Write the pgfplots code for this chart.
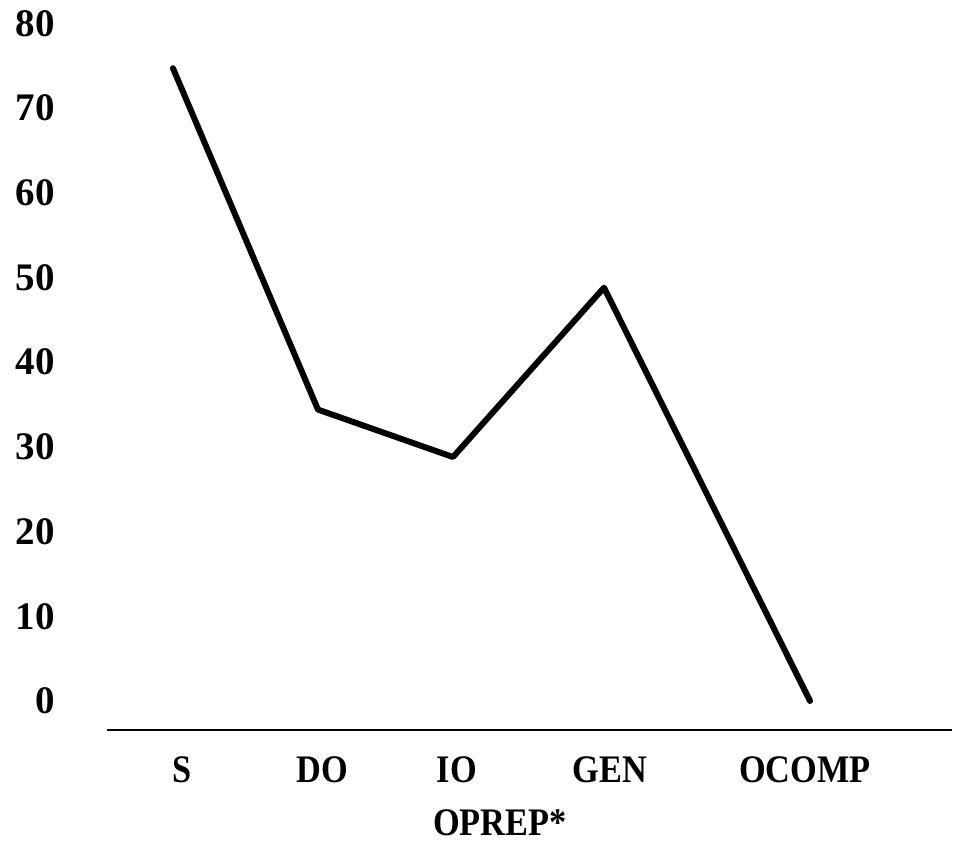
\documentclass[border=0pt]{standalone}
\usepackage{fontspec}
\setmainfont{Liberation Serif}
\newfontfamily\labfont[FakeStretch=0.88]{Liberation Serif}
\usepackage{pgfplots}
\pgfplotsset{compat=1.18}
\begin{document}
\begin{tikzpicture}
\begin{axis}[
  x=0.5pt, y=4.235pt,
  xmin=107, xmax=952, ymin=-3.4, ymax=80,
  axis x line*=bottom, axis y line*=left,
  axis line style={-},
  y axis line style={draw=none},
  x axis line style={line width=1.2pt},
  tick style={draw=none},
  ytick={0,10,...,80},
  xtick={182,322,457,610,805},
  xticklabels={S,DO,IO,GEN,OCOMP},
  /pgf/number format/assume math mode=true,
  yticklabel style={font=\fontsize{19.5}{22}\selectfont\bfseries, anchor=east, inner sep=0pt, xshift=-26pt},
  xticklabel style={font=\fontsize{19.5}{22}\selectfont\labfont\bfseries, anchor=center, inner sep=0pt, yshift=-20pt},
  xlabel={OPREP*},
  xlabel style={font=\fontsize{19.5}{22}\selectfont\labfont\bfseries, at={(axis description cs:0.465,-0.132)}, anchor=center, inner sep=0pt},
  clip=false,
]
\addplot[black, line width=3pt, line join=round, line cap=round, mark=none] coordinates {
  (173,74.7) (318,34.4) (453,28.8) (604,48.8) (810,0)
};
\coordinate (tl) at (axis cs:0,82.76);
\coordinate (br) at (axis cs:956,-16.65);
\end{axis}
\pgfresetboundingbox
\useasboundingbox (tl) rectangle (br);
\end{tikzpicture}
\end{document}
